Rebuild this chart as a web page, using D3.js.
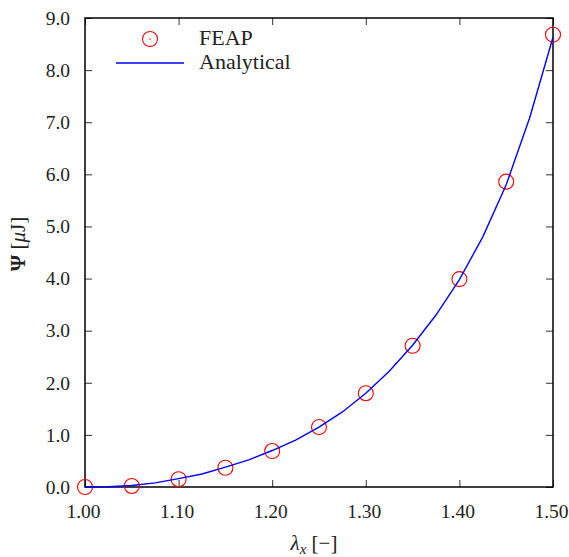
<!DOCTYPE html>
<html>
<head>
<meta charset="utf-8">
<script src="https://cdn.jsdelivr.net/npm/d3@7"></script>
<style>
  body { margin: 0; background: #fff; }
</style>
</head>
<body>
<div id="chart"></div>
<script>
// FEAP results
var feapX = [1.00, 1.05, 1.10, 1.15, 1.20, 1.25, 1.30, 1.35, 1.40, 1.45, 1.50];
var feapY = [0.00, 0.02, 0.15, 0.37, 0.69, 1.15, 1.80, 2.71, 3.99, 5.86, 8.68];

// analytical curve samples
var anaX = [1.000, 1.025, 1.050, 1.075, 1.100, 1.125, 1.150, 1.175, 1.200, 1.225, 1.250,
            1.275, 1.300, 1.325, 1.350, 1.375, 1.400, 1.425, 1.450, 1.475, 1.500];
var anaY = [0.000, 0.005, 0.03, 0.08, 0.16, 0.25, 0.38, 0.52, 0.70, 0.90, 1.15,
            1.44, 1.80, 2.22, 2.72, 3.30, 3.98, 4.80, 5.80, 7.08, 8.63];

// ticks
var xTicks = [1.00, 1.10, 1.20, 1.30, 1.40, 1.50];
var yTicks = [0, 1, 2, 3, 4, 5, 6, 7, 8, 9];

var serif = '"Liberation Serif", "Times New Roman", serif';

var svgWidth = 569;
var svgHeight = 557;
var margin = { top: 18, right: 16, bottom: 70, left: 85 };
var chartWidth = svgWidth - margin.left - margin.right;
var chartHeight = svgHeight - margin.top - margin.bottom;

var svg = d3.select("#chart")
  .append("svg")
  .attr("width", svgWidth)
  .attr("height", svgHeight)
  .attr("font-family", serif);

var g = svg.append("g")
  .attr("transform", `translate(${margin.left}, ${margin.top})`);

var x = d3.scaleLinear().domain([1.0, 1.5]).range([0, chartWidth]);
var y = d3.scaleLinear().domain([0, 9]).range([chartHeight, 0]);

var tickLen = 7;

// axes with inward ticks, mirrored on top/right
var xAxis = d3.axisBottom(x).tickValues(xTicks).tickSizeInner(-tickLen).tickSizeOuter(0)
  .tickPadding(17).tickFormat(d3.format(".2f"));
var yAxis = d3.axisLeft(y).tickValues(yTicks).tickSizeInner(-tickLen).tickSizeOuter(0)
  .tickPadding(15).tickFormat(d3.format(".1f"));
var xTop = d3.axisTop(x).tickValues(xTicks).tickSizeInner(-tickLen).tickSizeOuter(0).tickFormat("");
var yRight = d3.axisRight(y).tickValues(yTicks).tickSizeInner(-tickLen).tickSizeOuter(0).tickFormat("");

var gx = g.append("g").attr("transform", `translate(0, ${chartHeight})`).call(xAxis);
var gy = g.append("g").call(yAxis);
var gt = g.append("g").call(xTop);
var gr = g.append("g").attr("transform", `translate(${chartWidth}, 0)`).call(yRight);

[gx, gy, gt, gr].forEach(function(a) {
  a.attr("font-family", serif).attr("font-size", 19.5);
  a.select(".domain").remove();
  a.selectAll("line").attr("stroke", "#333").attr("stroke-width", 1);
  a.selectAll("text").attr("fill", "#222");
});
gx.selectAll("text").attr("dx", -2);

// frame
g.append("rect")
  .attr("width", chartWidth)
  .attr("height", chartHeight)
  .attr("fill", "none")
  .attr("stroke", "#000")
  .attr("stroke-width", 1.5);

// FEAP circles
var feap = feapX.map((d, i) => ({ x: d, y: feapY[i] }));
g.selectAll("circle.feap")
  .data(feap)
  .enter()
  .append("circle")
  .attr("class", "feap")
  .attr("cx", d => x(d.x))
  .attr("cy", d => y(d.y))
  .attr("r", 7.5)
  .attr("fill", "none")
  .attr("stroke", "#f00")
  .attr("stroke-width", 1.1);

// analytical line
var ana = anaX.map((d, i) => ({ x: d, y: anaY[i] }));
var line = d3.line().x(d => x(d.x)).y(d => y(d.y));
g.append("path")
  .datum(ana)
  .attr("d", line)
  .attr("fill", "none")
  .attr("stroke", "#00f")
  .attr("stroke-width", 1.4);

// legend
var leg = svg.append("g").attr("fill", "#222");
leg.append("circle").attr("cx", 150).attr("cy", 39).attr("r", 7.5)
  .attr("fill", "none").attr("stroke", "#f00").attr("stroke-width", 1.1);
leg.append("circle").attr("cx", 150).attr("cy", 39).attr("r", 0.9).attr("fill", "#f66");
leg.append("text").attr("x", 199).attr("y", 45).attr("font-size", 22).text("FEAP");
leg.append("line").attr("x1", 116).attr("x2", 184).attr("y1", 63).attr("y2", 63)
  .attr("stroke", "#00f").attr("stroke-width", 1.4);
leg.append("text").attr("x", 199).attr("y", 69).attr("font-size", 22).text("Analytical");

// axis titles
var xl = svg.append("text")
  .attr("x", 314)
  .attr("y", 550)
  .attr("text-anchor", "middle")
  .attr("fill", "#222")
  .attr("font-size", 21);
xl.append("tspan").attr("font-style", "italic").text("λ");
xl.append("tspan").attr("font-style", "italic").attr("font-size", 15).attr("dy", 4).text("x");
xl.append("tspan").attr("dy", -4).text(" [−]");

var yl = svg.append("text")
  .attr("transform", "translate(25, 244) rotate(-90)")
  .attr("text-anchor", "middle")
  .attr("fill", "#222")
  .attr("font-size", 21);
yl.append("tspan").attr("font-weight", "bold").text("Ψ");
yl.append("tspan").text(" [");
yl.append("tspan").attr("font-style", "italic").text("μ");
yl.append("tspan").text("J]");
</script>
</body>
</html>
